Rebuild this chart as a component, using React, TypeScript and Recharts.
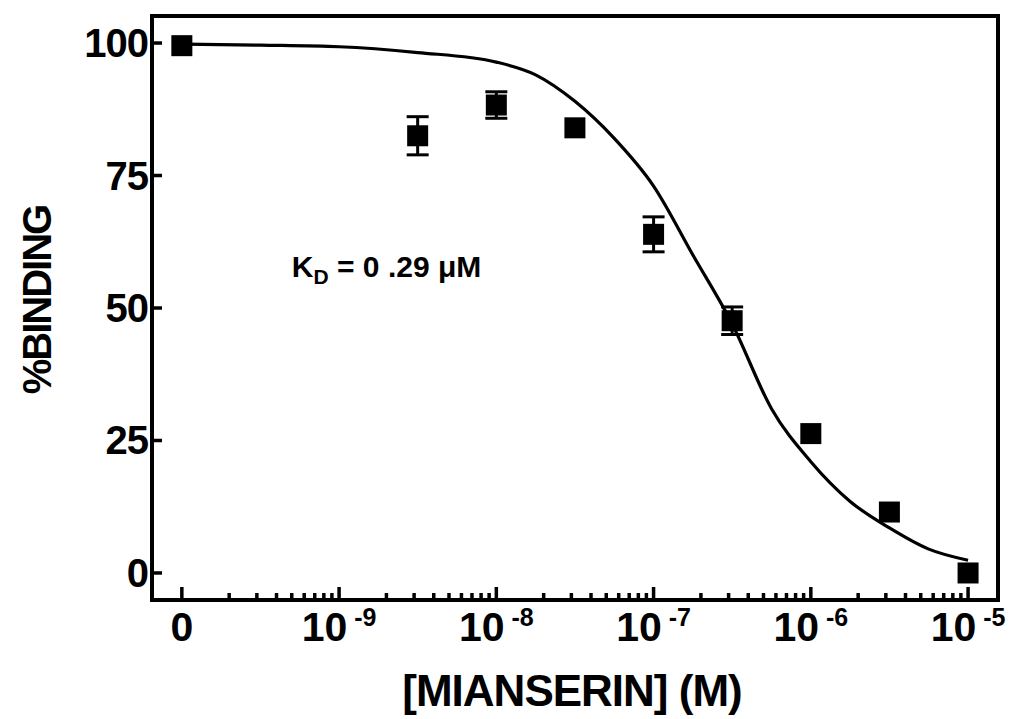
import React from 'react';
import { ComposedChart, Line, Scatter, ErrorBar, XAxis, YAxis, ReferenceDot, ReferenceArea, Label } from 'recharts';

// axis ticks
const decadeExponents = [-10, -9, -8, -7, -6, -5];
const minorSteps = [2, 3, 4, 5, 6, 7, 8, 9];
const yTicks = [0, 25, 50, 75, 100];

// measured points (mean +/- sem)
const pointConc = [1e-10, 3.16e-9, 1e-8, 3.16e-8, 1e-7, 3.16e-7, 1e-6, 3.16e-6, 1e-5];
const pointBinding = [99.5, 82.5, 88.3, 84.0, 63.9, 47.6, 26.3, 11.5, 0];
const pointSem = [0, 3.6, 2.5, 0, 3.3, 2.6, 0, 0, 0];

// fitted curve
const curveLogConc = [-10, -9.5, -9, -8.5, -8, -7.75, -7.5, -7.25, -7, -6.75, -6.5, -6.25, -6, -5.75, -5.5, -5.25, -5];
const curveBinding = [99.8, 99.6, 99.3, 98.2, 96.4, 94, 89, 82, 73, 60, 47, 31, 21, 13.5, 8.5, 4.5, 2.4];

const X_DOMAIN = [6.46e-11, 1.55e-5];
const Y_DOMAIN = [-5.1, 105.1];

const FONT = '"Liberation Sans", Arial, Helvetica, sans-serif';

const points = pointConc.map((x, i) => ({ x, y: pointBinding[i], sem: pointSem[i] }));
const curve = curveLogConc.map((lx, i) => ({ x: Math.pow(10, lx), y: curveBinding[i] }));

const xTicks: number[] = [];
decadeExponents.forEach((e) => {
  xTicks.push(Math.pow(10, e));
  if (e < -5) minorSteps.forEach((m) => xTicks.push(m * Math.pow(10, e)));
});

function XTick(props: any) {
  const { x, y, payload } = props;
  const lv = Math.log10(payload.value);
  const e = Math.round(lv);
  const major = Math.abs(lv - e) < 1e-6;
  return (
    <g>
      <line x1={x} x2={x} y1={y} y2={y - (major ? 13 : 7)} stroke="#000" strokeWidth={3.5} />
      {major && (
        <text x={x} y={y + 41} textAnchor="middle" fontFamily={FONT} fontWeight="bold" fontSize={41} fill="#000">
          {e === -10 ? (
            '0'
          ) : (
            <>
              <tspan>10</tspan>
              <tspan dy={-15} fontSize={25}>{` ${e}`}</tspan>
            </>
          )}
        </text>
      )}
    </g>
  );
}

function YTick(props: any) {
  const { x, y, payload } = props;
  return (
    <g>
      <line x1={x} x2={x + 10} y1={y} y2={y} stroke="#000" strokeWidth={3.5} />
      <text x={x - 4} y={y + 14} textAnchor="end" fontFamily={FONT} fontWeight="bold" fontSize={40} letterSpacing={-1} fill="#000">
        {payload.value}
      </text>
    </g>
  );
}

function Square(props: any) {
  const { cx, cy } = props;
  return <rect x={cx - 10.5} y={cy - 10.5} width={21} height={21} fill="#000" />;
}

function YTitle(props: any) {
  const { viewBox } = props;
  const cx = viewBox.x + 37;
  const cy = viewBox.y + viewBox.height / 2 - 8;
  return (
    <text x={cx} y={cy} transform={`rotate(-90 ${cx} ${cy})`} textAnchor="middle" dominantBaseline="central"
      fontFamily={FONT} fontWeight="bold" fontSize={40} letterSpacing={-2} fill="#000">
      %BINDING
    </text>
  );
}

function XTitle(props: any) {
  const { viewBox } = props;
  const cx = viewBox.x + viewBox.width / 2 - 3;
  return (
    <text x={cx} y={viewBox.y + 106} textAnchor="middle" fontFamily={FONT} fontWeight="bold" fontSize={44}
      letterSpacing={-1} fill="#000">
      [MIANSERIN] (M)
    </text>
  );
}

function KdLabel(props: any) {
  const { viewBox } = props;
  return (
    <text x={viewBox.x} y={viewBox.y + 11} fontFamily={FONT} fontWeight="bold" fontSize={30} fill="#000">
      K<tspan fontSize={21} dy={7}>D</tspan>
      <tspan dy={-7}> = 0 .29 μM</tspan>
    </text>
  );
}

export default function App() {
  return (
    <div style={{ position: 'absolute', left: 0, top: 0, width: 1011, height: 719, background: '#fff' }}>
      <ComposedChart width={1011} height={719} margin={{ top: 16, right: 13, bottom: 0, left: 0 }}>
        <XAxis
          dataKey="x"
          type="number"
          scale="log"
          domain={X_DOMAIN}
          allowDataOverflow
          ticks={xTicks}
          interval={0}
          height={119}
          tickSize={0}
          tickMargin={0}
          tick={<XTick />}
          axisLine={{ stroke: '#000', strokeWidth: 4 }}
        >
          <Label content={<XTitle />} />
        </XAxis>
        <YAxis
          type="number"
          domain={Y_DOMAIN}
          allowDataOverflow
          ticks={yTicks}
          interval={0}
          width={152}
          tickSize={0}
          tickMargin={0}
          tick={<YTick />}
          axisLine={{ stroke: '#000', strokeWidth: 4 }}
        >
          <Label content={<YTitle />} />
        </YAxis>
        <ReferenceArea x1={X_DOMAIN[0]} x2={X_DOMAIN[1]} y1={Y_DOMAIN[0]} y2={Y_DOMAIN[1]} fill="none" fillOpacity={0}
          stroke="#000" strokeWidth={4} strokeOpacity={1} ifOverflow="visible" />
        <Line data={curve} dataKey="y" type="monotone" stroke="#000" strokeWidth={3.2} dot={false}
          activeDot={false} isAnimationActive={false} />
        <Scatter data={points} dataKey="y" shape={<Square />} isAnimationActive={false}>
          <ErrorBar dataKey="sem" direction="y" width={11} stroke="#000" strokeWidth={3} isAnimationActive={false} />
        </Scatter>
        <ReferenceDot x={5.08e-10} y={57.7} r={1} fill="none" stroke="none" label={<KdLabel />} />
      </ComposedChart>
    </div>
  );
}
